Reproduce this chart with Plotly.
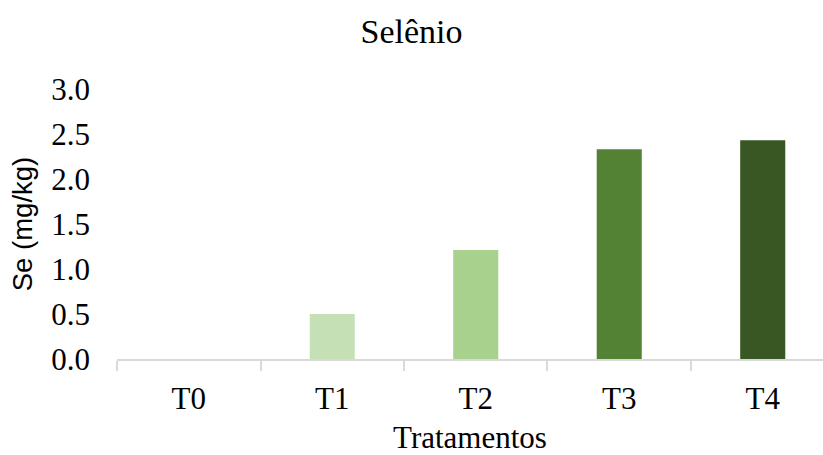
import plotly.graph_objects as go

# Selenium content per treatment
tratamentos = ["T0", "T1", "T2", "T3", "T4"]
selenio = [0.0, 0.50, 1.21, 2.33, 2.43]
cores = ["#e2f0d9", "#c5e0b4", "#a9d18e", "#548235", "#385723"]
y_ticks = [0.0, 0.5, 1.0, 1.5, 2.0, 2.5, 3.0]
y_tick_text = ["0.0", "0.5", "1.0", "1.5", "2.0", "2.5", "3.0"]

serif = "Liberation Serif"

fig = go.Figure(
    go.Bar(
        x=tratamentos,
        y=selenio,
        marker=dict(color=cores, line=dict(width=0)),
        width=0.314,
    )
)

fig.update_layout(
    width=823,
    height=455,
    margin=dict(l=117, r=0, t=89, b=96),
    paper_bgcolor="white",
    plot_bgcolor="white",
    showlegend=False,
    title=dict(
        text="Selênio",
        x=0.5,
        xref="container",
        xanchor="center",
        y=1 - 31 / 455,
        yanchor="middle",
        font=dict(family=serif, size=34, color="black"),
    ),
)

fig.update_xaxes(
    type="category",
    range=[-0.5, 4.42],
    showgrid=False,
    showline=True,
    linecolor="#d9d9d9",
    linewidth=1.5,
    ticks="outside",
    tickson="boundaries",
    ticklen=10,
    tickwidth=1.5,
    tickcolor="#d9d9d9",
    ticklabelstandoff=11,
    tickfont=dict(family=serif, size=31, color="black"),
    title=dict(
        text="Tratamentos",
        font=dict(family=serif, size=31, color="black"),
        standoff=14,
    ),
    zeroline=False,
)

fig.update_yaxes(
    range=[0, 3.0],
    tickvals=y_ticks,
    ticktext=y_tick_text,
    showgrid=False,
    showline=False,
    zeroline=False,
    ticks="",
    ticklabelstandoff=26,
    tickfont=dict(family=serif, size=31, color="black"),
    title=dict(
        text="Se (mg/kg)",
        font=dict(family="Liberation Sans", size=27.5, color="black"),
        standoff=10,
    ),
)

fig.write_html("out.html")
